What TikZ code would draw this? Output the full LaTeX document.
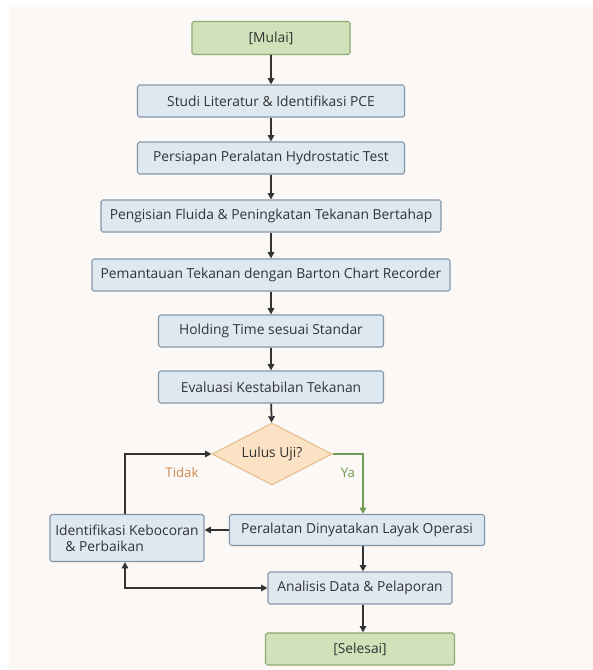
\documentclass[tikz,border=0pt]{standalone}
\usepackage{fontspec}
\setmainfont{Open Sans}
\usetikzlibrary{shapes.geometric,arrows.meta}
\definecolor{paper}{HTML}{FBF8F5}
\definecolor{boxfill}{HTML}{DDE8F1}
\definecolor{boxline}{HTML}{8497A8}
\definecolor{gofill}{HTML}{CFE2B9}
\definecolor{goline}{HTML}{8DAA72}
\definecolor{qfill}{HTML}{FCE2C4}
\definecolor{qline}{HTML}{E2BC90}
\definecolor{ink}{HTML}{333333}
\definecolor{yes}{HTML}{6E9A52}
\definecolor{no}{HTML}{CF8A52}
\begin{document}
\begin{tikzpicture}[x=.03cm,y=-.03cm,font=\fontsize{11.8}{13.5}\selectfont,text=ink,
box/.style={draw=boxline,fill=boxfill,rounded corners=1.5pt,line width=.9pt,minimum height=.96cm,inner sep=1pt},
term/.style={box,draw=goline,fill=gofill},
arr/.style={draw=ink,line width=1.5pt,-{Triangle[length=5.5pt,width=5.5pt]}}]
\fill[white](0,0)rectangle(593,670);
\fill[paper](9,5)rectangle(593,670);
\node[term,minimum width=4.74cm,minimum height=.99cm](mulai)at(271,38){[Mulai]};
\node[box,minimum width=8.01cm](studi)at(271,101){Studi Literatur \& Identifikasi PCE};
\node[box,minimum width=8.01cm](siap)at(271,158){Persiapan Peralatan Hydrostatic Test};
\node[box,minimum width=10.2cm](isi)at(271,216){Pengisian Fluida \& Peningkatan Tekanan Bertahap};
\node[box,minimum width=10.74cm](pantau)at(271,275){Pemantauan Tekanan dengan Barton Chart Recorder};
\node[box,minimum width=6.75cm](hold)at(271,331){Holding Time sesuai Standar};
\node[box,minimum width=6.75cm](eval)at(271,387){Evaluasi Kestabilan Tekanan};
\node[diamond,shape aspect=2,draw=qline,fill=qfill,line width=.9pt,minimum width=3.6cm,minimum height=1.86cm,inner sep=0pt](lulus)at(272,454){Lulus Uji?};
\node[box,minimum width=4.62cm,minimum height=1.41cm,align=left](bocor)at(127,538){Identifikasi Kebocoran\\\hspace*{3mm}\& Perbaikan};
\node[box,minimum width=7.65cm,minimum height=.93cm](layak)at(357,530){Peralatan Dinyatakan Layak Operasi};
\node[box,minimum width=5.52cm](lapor)at(360,588){Analisis Data \& Pelaporan};
\node[term,minimum width=5.67cm](selesai)at(360,649){[Selesai]};
\node[text=no,font=\fontsize{11.3}{12}\selectfont](tidak)at(182,473){Tidak};
\node[text=yes,font=\fontsize{11.3}{12}\selectfont](ya)at(348,473){Ya};
\foreach\a/\b in{mulai/studi,studi/siap,siap/isi,isi/pantau,pantau/hold,hold/eval,eval/lulus}
\draw[arr](\a)--(\b);
\draw[arr,draw=yes](lulus.east)-|([xshift=.18cm]layak.north);
\draw[arr]([xshift=-.06cm]bocor.north)|-(lulus.west);
\draw[arr](layak.west)--(layak.west-|bocor.east);
\draw[arr]([xshift=.18cm]layak.south)--([xshift=.09cm]lapor.north);
\draw[arr]([xshift=.09cm]lapor.south)--([xshift=.09cm]lapor.south|-selesai.north);
\draw[arr,{Triangle[length=5.5pt,width=5.5pt]}-{Triangle[length=5.5pt,width=5.5pt]}]([xshift=-.06cm]bocor.south)|-(lapor.west);
\end{tikzpicture}
\end{document}
